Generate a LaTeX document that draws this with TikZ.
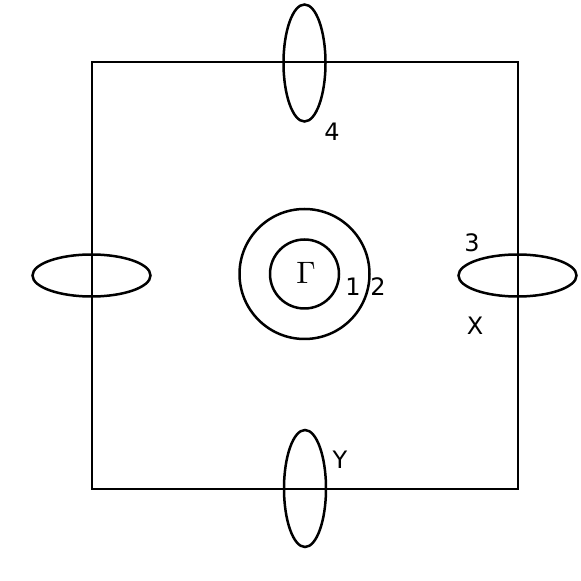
\documentclass[tikz,border=0pt]{standalone}
\usepackage[no-math]{fontspec}
\setmainfont{DejaVu Sans}
\usetikzlibrary{shapes.geometric}
\begin{document}
\begin{tikzpicture}[x=1pt,y=1pt,
  ln/.style={line width=2pt},
  vell/.style={ellipse,draw,line width=2.5pt,minimum width=42pt,minimum height=117pt,inner sep=0pt},
  hell/.style={ellipse,draw,line width=2.5pt,minimum width=118pt,minimum height=42pt,inner sep=0pt},
  ring/.style={circle,draw,line width=2.5pt,inner sep=0pt},
  lbl/.style={font=\fontsize{24}{26}\selectfont,inner sep=0pt}]
\useasboundingbox (0,0) rectangle (581,581);
\node[draw,ln,minimum width=426pt,minimum height=427pt,inner sep=0pt] (sq) at (305,305.5) {};
\node[vell] (top) at (304.5,518) {};
\node[vell] (bot) at (305,92.5) {};
\node[hell] (lft) at (91.5,305.5) {};
\node[hell] (rgt) at (517.5,305.5) {};
\node[ring,minimum size=130pt] (outer) at (304.5,307) {};
\node[ring,minimum size=69pt] (inner) at (304.5,307) {};
\node[inner sep=0pt] (g) at (306,308) {\scalebox{3.1}{$\Gamma$}};
\node[lbl] (l1) at (353,294) {1};
\node[lbl] (l2) at (378,294) {2};
\node[lbl] (l3) at (472,338) {3};
\node[lbl] (lx) at (475,255) {X};
\node[lbl] (l4) at (332,449) {4};
\node[lbl] (ly) at (340,121) {Y};
\end{tikzpicture}
\end{document}
